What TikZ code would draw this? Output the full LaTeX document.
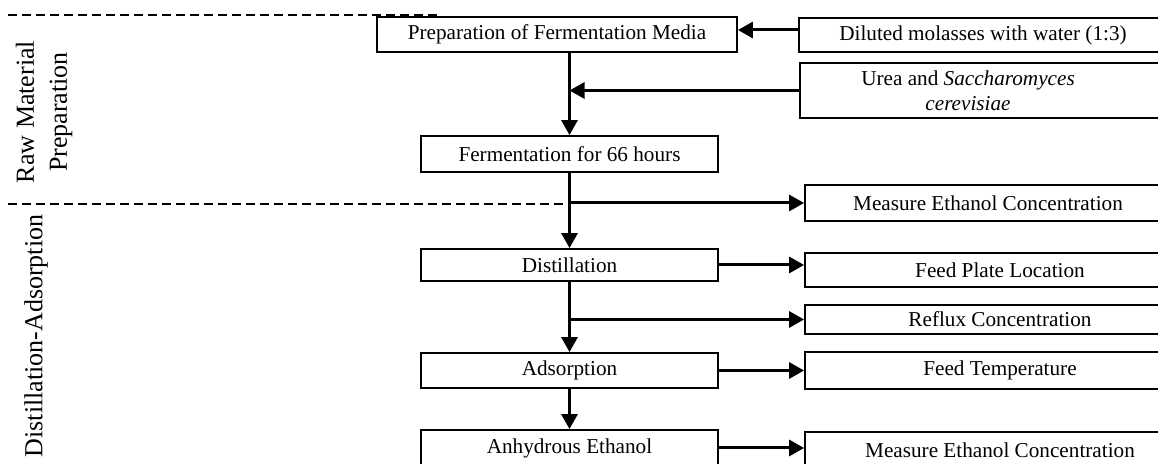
\documentclass[tikz,border=0pt]{standalone}
\usepackage{fontspec}
\setmainfont{Liberation Serif}
\usetikzlibrary{arrows.meta}

\begin{document}
\begin{tikzpicture}[
  x=0.5pt, y=-0.5pt,
  every node/.style={font=\fontsize{10.6}{12.5}\selectfont},
  stage/.style={draw, line width=0.9pt, minimum width=148.5pt, minimum height=17.5pt,
    inner sep=1pt, align=center},
  side/.style={draw, line width=0.9pt, minimum width=195pt, minimum height=17pt,
    inner sep=1pt, align=center},
  arrow/.style={-{Triangle[length=7.5pt,width=8pt]}, line width=1.5pt},
  divider/.style={line width=1.3pt, dash pattern=on 4.6pt off 2.4pt},
  phase/.style={rotate=90, align=center, font=\fontsize{13}{16.5}\selectfont}
]
\useasboundingbox (0,0) rectangle (1158,464);
\clip (0,0) rectangle (1158,464);

% Phase dividers
\coordinate (d1a) at (8,15);
\coordinate (d1b) at (437,15);
\coordinate (d2a) at (8,204);

% Phase labels
\node[phase] (raw) at (44,112) {Raw Material\\Preparation};
\node[phase] (dsa) at (36,336) {Distillation-Adsorption};

% Main stages
\node[stage, minimum width=180pt] (prep) at (557,34.5) {Preparation of Fermentation Media};
\node[stage, minimum height=18pt] (ferm) at (569.5,154) {Fermentation for 66 hours};
\node[stage, minimum height=16pt] (dist) at (569.5,265) {Distillation};
\node[stage] (ads) at (569.5,370.5) {Adsorption};
\node[stage, minimum height=18pt] (anh) at (569.5,448) {Anhydrous Ethanol};

% Inputs and measured variables
\node[side, minimum width=184pt] (mol) at (983,35) {Diluted molasses with water (1:3)};
\node[side, minimum width=184pt, minimum height=27.5pt] (urea) at (984,90.5)
  {Urea and \textit{Saccharomyces}\hspace*{16pt}\\\textit{cerevisiae}\hspace*{16pt}};
\node[side, minimum width=183pt, minimum height=18pt] (meas1) at (988,203) {Measure Ethanol Concentration};
\node[side] (plate) at (1000,270) {Feed Plate Location};
\node[side, minimum height=14.5pt] (reflux) at (1000,319.5) {Reflux Concentration};
\node[side, minimum height=18.5pt] (temp) at (1000,370.5) {Feed Temperature};
\node[side, minimum height=18pt] (meas2) at (1000,450) {Measure Ethanol Concentration};

\draw[divider] (d1a) -- (d1b);
\draw[divider] (d2a) -- (d2a -| ferm.south);

% Arrows
\draw[arrow] ([yshift=2.5pt]mol.west) -- ([yshift=2.5pt]mol.west -| prep.east);
\draw[arrow] (prep.south -| ferm.north) -- (ferm.north);
\draw[arrow] (urea.west) -- (urea.west -| ferm.north);
\draw[arrow] (ferm.south) -- (dist.north);
\draw[arrow] (meas1.west -| ferm.south) -- (meas1.west);
\draw[arrow] (dist.east) -- (dist.east -| plate.west);
\draw[arrow] (dist.south) -- (ads.north);
\draw[arrow] (reflux.west -| dist.south) -- (reflux.west);
\draw[arrow] (ads.east) -- (ads.east -| temp.west);
\draw[arrow] (ads.south) -- (anh.north);
\draw[arrow] (anh.east) -- (anh.east -| meas2.west);

\end{tikzpicture}
\end{document}
